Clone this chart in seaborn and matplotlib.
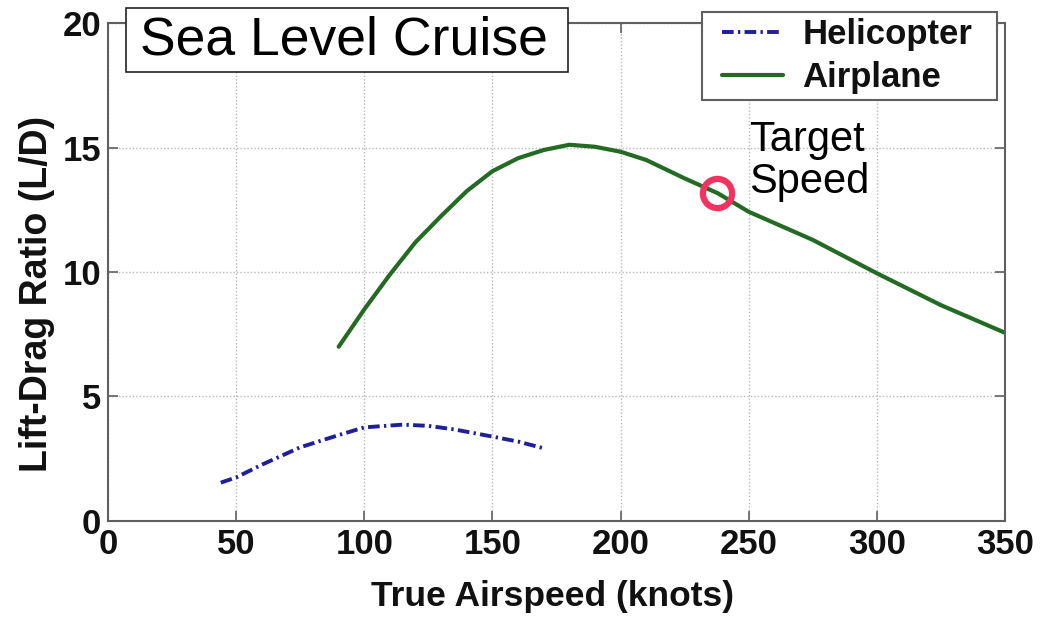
import matplotlib
matplotlib.use("Agg")
import matplotlib.pyplot as plt
from matplotlib.patches import Rectangle
import seaborn as sns
import pandas as pd

# ---- data ----
heli_speed = [44, 50, 60, 75, 90, 100, 115, 125, 135, 150, 160, 170]
heli_ld = [1.54, 1.75, 2.26, 2.96, 3.45, 3.76, 3.87, 3.82, 3.68, 3.39, 3.19, 2.92]

plane_speed = [90, 100, 110, 120, 130, 140, 150, 160, 170, 180, 190, 200, 210,
               225, 238, 250, 275, 300, 325, 350]
plane_ld = [7.0, 8.5, 9.9, 11.2, 12.25, 13.25, 14.05, 14.57, 14.9, 15.11, 15.03,
            14.83, 14.5, 13.76, 13.16, 12.42, 11.29, 9.95, 8.67, 7.56]

target_speed = [237.8]
target_ld = [13.16]

x_ticks = [0, 50, 100, 150, 200, 250, 300, 350]
y_ticks = [0, 5, 10, 15, 20]

sns.set_theme(style="white")
plt.rcParams['font.family'] = ['Liberation Sans', 'DejaVu Sans']

W, H = 1049, 617
fig = plt.figure(figsize=(W / 100, H / 100), dpi=100)
ax = fig.add_axes([0.103, 0.1556, 0.855, 0.8071])

heli_df = pd.DataFrame({"speed": heli_speed, "ld": heli_ld})
plane_df = pd.DataFrame({"speed": plane_speed, "ld": plane_ld})

sns.lineplot(data=heli_df, x="speed", y="ld", ax=ax, color="#1f1f99",
             lw=2.8, linestyle=(0, (3.0, 1.1, 0.6, 1.1)), label="Helicopter",
             sort=False)
sns.lineplot(data=plane_df, x="speed", y="ld", ax=ax, color="#236b23",
             lw=3.0, label="Airplane", sort=False)
ax.plot(target_speed, target_ld, 'o', ms=21, mfc='none', mec='#f2325f', mew=4.5,
        zorder=5)

ax.set_xlim(0, 350)
ax.set_ylim(0, 20)
ax.set_xticks(x_ticks)
ax.set_yticks(y_ticks)
ax.grid(True, color="#b8b8b8", linestyle=(0, (1, 1.5)), lw=1.0)
for s in ax.spines.values():
    s.set_color("#606060")
    s.set_linewidth(1.5)
    s.set_visible(True)
ax.tick_params(direction='in', length=7, width=1.2, color="#606060",
               top=True, right=True, bottom=True, left=True,
               labelsize=25, pad=5)
for lab in ax.get_xticklabels() + ax.get_yticklabels():
    lab.set_fontweight('bold')
    lab.set_color('#111111')

ax.set_xlabel("True Airspeed (knots)", fontsize=25.5, fontweight='bold',
              color='#111111')
ax.xaxis.set_label_coords(0.495, -0.118)
ax.set_ylabel("Lift-Drag Ratio (L/D)", fontsize=27, fontweight='bold',
              color='#111111', va='center')
ax.yaxis.set_label_coords(-0.079, 0.456)

leg = ax.legend(loc='upper right', bbox_to_anchor=(0.9266, 0.971),
                bbox_transform=fig.transFigure, frameon=False,
                prop={'weight': 'bold', 'size': 25},
                handlelength=1.75, handletextpad=0.55, borderpad=0.0,
                labelspacing=0.3, borderaxespad=0)
leg.set_zorder(6)
for t in leg.get_texts():
    t.set_color('#111111')

title = fig.text(0.1335, 0.935, "Sea Level Cruise", fontsize=38.5, color='black',
                 ha='left', va='center', zorder=7)

ax.text(250, 14.45, "Target\nSpeed", fontsize=30, color='black', ha='left',
        va='center', linespacing=1.05)

# frames around legend and title, padded as in the reference
fig.canvas.draw()
inv = fig.transFigure.inverted()
bb = leg.get_window_extent().transformed(inv)
ax.add_patch(Rectangle((bb.x0 - 20 / W, bb.y0 - 6 / H), bb.width + 45 / W,
                       bb.height + 12 / H, transform=fig.transFigure,
                       fc='white', ec='#606060', lw=1.5, zorder=5.5,
                       clip_on=False))
tb = title.get_window_extent().transformed(inv)
tcy = (tb.y0 + tb.y1) / 2
fig.add_artist(Rectangle((tb.x0 - 14 / W, tcy - 32 / H), tb.width + 34 / W,
                         64 / H, transform=fig.transFigure,
                         fc='white', ec='#222222', lw=1.2, zorder=6))

fig.savefig("out.png", dpi=100)
